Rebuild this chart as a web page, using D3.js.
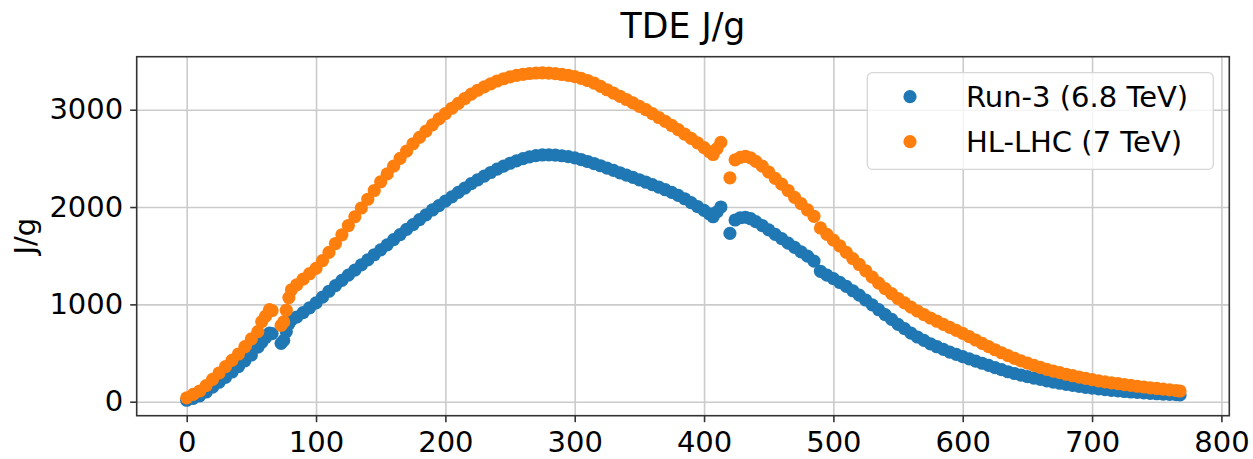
<!DOCTYPE html>
<html>
<head>
<meta charset="utf-8">
<script src="https://cdn.jsdelivr.net/npm/d3@7"></script>
<style>
  body { margin: 0; background: #fff; }
  text { font-family: "DejaVu Sans", sans-serif; fill: #000; }
</style>
</head>
<body>
<div id="chart"></div>
<script>
// values: [position, J/g]
const run3 = [
  [0,15],[5,35],[10,60],[15,100],[20,150],[25,200],[30,250],[35,305],[40,360],[45,420],
  [50,480],[55,560],[58,610],[61,660],[64,705],[66,700],[73,600],[75,630],[77,720],[79,800],
  [81,840],[85,870],[90,915],[95,965],[100,1015],[105,1075],[110,1135],[115,1192],[120,1247],[125,1300],
  [130,1352],[135,1405],[140,1457],[145,1510],[150,1560],[155,1612],[160,1665],[165,1717],[170,1770],[175,1820],
  [180,1870],[185,1920],[190,1970],[195,2015],[200,2060],[205,2105],[210,2150],[215,2195],[220,2240],[225,2280],
  [230,2318],[235,2355],[240,2390],[245,2420],[250,2450],[255,2475],[260,2497],[265,2515],[270,2528],[275,2535],
  [280,2536],[285,2533],[290,2527],[295,2518],[300,2505],[305,2488],[310,2468],[315,2447],[320,2424],[325,2400],
  [330,2376],[335,2352],[340,2328],[345,2304],[350,2280],[355,2255],[360,2230],[365,2205],[370,2178],[375,2150],
  [380,2120],[385,2085],[390,2045],[395,2005],[400,1965],[404,1930],[407,1900],[410,1950],[413,2000],[420,1730],
  [424,1867],[428,1890],[432,1895],[436,1880],[440,1850],[445,1810],[450,1765],[455,1720],[460,1675],[465,1630],
  [470,1585],[475,1540],[480,1495],[485,1445],[490,1340],[495,1300],[500,1265],[505,1225],[510,1185],[515,1140],
  [520,1095],[525,1045],[530,995],[535,945],[540,895],[545,845],[550,795],[555,750],[560,705],[565,665],
  [570,630],[575,595],[580,565],[585,538],[590,510],[595,486],[600,463],[605,440],[610,417],[615,395],
  [620,373],[625,350],[630,329],[635,308],[640,290],[645,274],[650,258],[655,243],[660,229],[665,215],
  [670,202],[675,190],[680,179],[685,168],[690,158],[695,148],[700,139],[705,131],[710,124],[715,117],
  [720,111],[725,105],[730,100],[735,95],[740,90],[745,86],[750,82],[755,78],[760,75],[765,72],
  [768,70]
];

const hllhc = [
  [0,40],[5,75],[10,110],[15,165],[20,230],[25,295],[30,360],[35,425],[40,490],[45,565],
  [50,645],[55,720],[58,822],[61,880],[64,945],[66,935],[73,785],[75,820],[77,940],[79,1070],
  [81,1150],[85,1200],[90,1260],[95,1315],[100,1370],[105,1450],[110,1535],[115,1625],[120,1715],[125,1810],
  [130,1900],[135,1990],[140,2080],[145,2170],[150,2260],[155,2340],[160,2420],[165,2500],[170,2575],[175,2650],
  [180,2715],[185,2780],[190,2845],[195,2905],[200,2960],[205,3015],[210,3065],[215,3115],[220,3160],[225,3200],
  [230,3235],[235,3265],[240,3295],[245,3318],[250,3338],[255,3352],[260,3364],[265,3372],[270,3377],[275,3378],
  [280,3376],[285,3370],[290,3362],[295,3352],[300,3340],[305,3322],[310,3300],[315,3273],[320,3240],[325,3205],
  [330,3170],[335,3138],[340,3105],[345,3070],[350,3035],[355,3000],[360,2960],[365,2920],[370,2880],[375,2838],
  [380,2795],[385,2750],[390,2705],[395,2660],[400,2610],[404,2570],[407,2540],[410,2600],[413,2665],[420,2300],
  [424,2485],[428,2510],[432,2520],[436,2505],[440,2470],[445,2420],[450,2360],[455,2295],[460,2235],[465,2170],
  [470,2100],[475,2035],[480,1970],[485,1905],[490,1785],[495,1720],[500,1660],[505,1600],[510,1535],[515,1470],
  [520,1410],[525,1345],[530,1280],[535,1218],[540,1162],[545,1110],[550,1060],[555,1015],[560,972],[565,932],
  [570,895],[575,860],[580,827],[585,795],[590,764],[595,733],[600,702],[605,668],[610,634],[615,600],
  [620,566],[625,534],[630,503],[635,474],[640,446],[645,420],[650,396],[655,374],[660,353],[665,333],
  [670,315],[675,298],[680,282],[685,267],[690,253],[695,239],[700,226],[705,214],[710,204],[715,194],
  [720,185],[725,176],[730,167],[735,159],[740,151],[745,143],[750,136],[755,129],[760,122],[765,115],
  [768,110]
];

const seriesNames = ["Run-3 (6.8 TeV)", "HL-LHC (7 TeV)"];
const seriesColors = ["#1f77b4", "#ff7f0e"];
const xTicks = [0, 100, 200, 300, 400, 500, 600, 700, 800];
const yTicks = [0, 1000, 2000, 3000];

const width = 1253, height = 459;
const plot = {left: 136.7, right: 1229.3, top: 56.7, bottom: 415.7};
const dotR = 6.6;

const svg = d3.select("#chart")
    .append("svg")
        .attr("width", width)
        .attr("height", height);

// scales (matplotlib-style 5% margins baked into the domains)
const x = d3.scaleLinear()
    .domain([-38.66, 806.1])
    .range([plot.left, plot.right]);

const y = d3.scaleLinear()
    .domain([-143.8, 3544.6])
    .range([plot.bottom, plot.top]);

// grid
svg.append("g")
    .attr("transform", `translate(0,${plot.bottom})`)
    .call(d3.axisBottom(x).tickValues(xTicks).tickSize(-(plot.bottom - plot.top)).tickFormat(""))
    .call(g => g.select(".domain").remove())
    .call(g => g.selectAll("line").attr("stroke", "#cbcbcb").attr("stroke-width", 1.6));

svg.append("g")
    .attr("transform", `translate(${plot.left},0)`)
    .call(d3.axisLeft(y).tickValues(yTicks).tickSize(-(plot.right - plot.left)).tickFormat(""))
    .call(g => g.select(".domain").remove())
    .call(g => g.selectAll("line").attr("stroke", "#cbcbcb").attr("stroke-width", 1.6));

// points, blue first then orange on top
[run3, hllhc].forEach((data, i) => {
    svg.append("g")
        .attr("fill", seriesColors[i])
        .selectAll("circle")
        .data(data)
        .enter().append("circle")
            .attr("cx", d => x(d[0]))
            .attr("cy", d => y(d[1]))
            .attr("r", dotR);
});

// axes
const xAxis = svg.append("g")
    .attr("transform", `translate(0,${plot.bottom})`)
    .call(d3.axisBottom(x).tickValues(xTicks).tickSize(6.5).tickPadding(9).tickFormat(d3.format("d")));

const yAxis = svg.append("g")
    .attr("transform", `translate(${plot.left},0)`)
    .call(d3.axisLeft(y).tickValues(yTicks).tickSize(6.5).tickPadding(7).tickFormat(d3.format("d")));

[xAxis, yAxis].forEach(g => {
    g.select(".domain").remove();
    g.selectAll("line").attr("stroke", "#333").attr("stroke-width", 1.6);
    g.selectAll("text")
        .attr("font-family", "DejaVu Sans, sans-serif")
        .attr("font-size", 29)
        .attr("fill", "#000");
});

// frame
svg.append("rect")
    .attr("x", plot.left)
    .attr("y", plot.top)
    .attr("width", plot.right - plot.left)
    .attr("height", plot.bottom - plot.top)
    .attr("fill", "none")
    .attr("stroke", "#333")
    .attr("stroke-width", 1.6);

// title + y label
svg.append("text")
    .attr("x", (plot.left + plot.right) / 2)
    .attr("y", 38)
    .attr("text-anchor", "middle")
    .attr("font-size", 34.7)
    .text("TDE J/g");

svg.append("text")
    .attr("transform", `translate(35,${(plot.top + plot.bottom) / 2}) rotate(-90)`)
    .attr("text-anchor", "middle")
    .attr("font-size", 29)
    .text("J/g");

// legend
const legend = svg.append("g")
    .attr("transform", "translate(867.3,72.7)");

legend.append("rect")
    .attr("width", 346)
    .attr("height", 96.6)
    .attr("rx", 5)
    .attr("fill", "#fff")
    .attr("fill-opacity", 0.8)
    .attr("stroke", "#d6d6d6")
    .attr("stroke-width", 1.3);

const items = legend.selectAll("g.item")
    .data(seriesNames)
    .enter().append("g")
        .attr("class", "item")
        .attr("transform", (d, i) => `translate(0,${24 + i * 45})`);

items.append("circle")
    .attr("cx", 42.7)
    .attr("r", dotR)
    .attr("fill", (d, i) => seriesColors[i]);

items.append("text")
    .attr("x", 98.7)
    .attr("dy", "0.36em")
    .attr("font-size", 29)
    .text(d => d);
</script>
</body>
</html>
